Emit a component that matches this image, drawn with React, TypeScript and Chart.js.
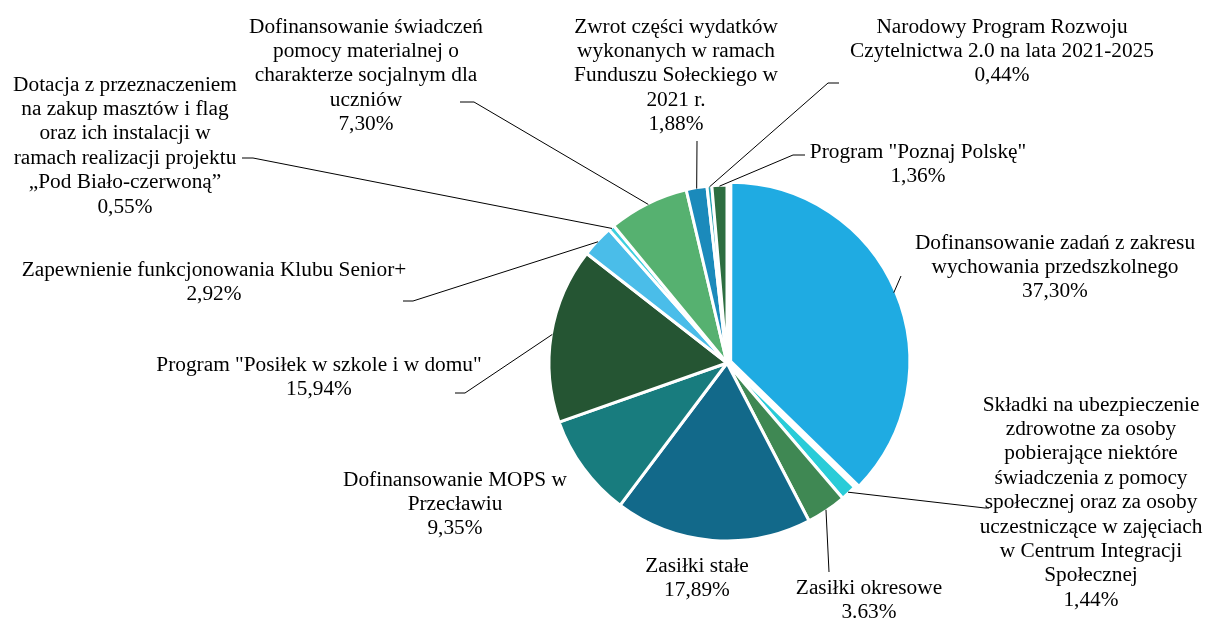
import React, { useEffect, useRef } from "react";
import { Chart, registerables } from "chart.js";

Chart.register(...registerables);

const CATEGORIES: string[] = [
  "Dofinansowanie zadań z zakresu\nwychowania przedszkolnego",
  "Składki na ubezpieczenie\nzdrowotne za osoby\npobierające niektóre\nświadczenia z pomocy\nspołecznej oraz za osoby\nuczestniczące w zajęciach\nw Centrum Integracji\nSpołecznej",
  "Zasiłki okresowe",
  "Zasiłki stałe",
  "Dofinansowanie MOPS w\nPrzecławiu",
  'Program "Posiłek w szkole i w domu"',
  "Zapewnienie funkcjonowania Klubu Senior+",
  "Dotacja z przeznaczeniem\nna zakup masztów i flag\noraz ich instalacji w\nramach realizacji projektu\n„Pod Biało-czerwoną”",
  "Dofinansowanie świadczeń\npomocy materialnej o\ncharakterze socjalnym dla\nuczniów",
  "Zwrot części wydatków\nwykonanych w ramach\nFunduszu Sołeckiego w\n2021 r.",
  "Narodowy Program Rozwoju\nCzytelnictwa 2.0 na lata 2021-2025",
  'Program "Poznaj Polskę"',
];

const VALUES: number[] = [37.3, 1.44, 3.63, 17.89, 9.35, 15.94, 2.92, 0.55, 7.3, 1.88, 0.44, 1.36];

const PERCENT_LABELS: string[] = [
  "37,30%", "1,44%", "3.63%", "17,89%", "9,35%", "15,94%",
  "2,92%", "0,55%", "7,30%", "1,88%", "0,44%", "1,36%",
];

const COLORS: string[] = [
  "#1FABE2", "#29CCD8", "#3F8853", "#12698A", "#187C7E", "#255533",
  "#4ABDE9", "#3FD0DE", "#56B170", "#1B8ABB", "#22A2B2", "#2D6E40",
];

const OFFSETS: number[] = [16, 0, 0, 0, 0, 0, 0, 0, 0, 0, 0, 0];

// label layout: text block centre x, first line centre y, leader elbow points
const LABEL_X: number[] = [1055, 1091, 869, 697, 455, 319, 214, 125, 366, 676, 1002, 918];
const LABEL_Y0: number[] = [243, 405, 588, 566, 480, 365, 270, 85, 27, 27, 27, 152];
const LEADERS: number[][][] = [
  [[901, 276]],
  [[985, 508], [989, 508]],
  [[829, 572]],
  [],
  [],
  [[465, 393], [455, 393]],
  [[413, 301], [403, 301]],
  [[253, 158], [242, 158]],
  [[474, 102], [460, 102]],
  [[697, 141]],
  [[828, 83], [839, 83]],
  [[793, 155], [805, 155]],
];

const FONT = '21.33px "Liberation Serif", "Times New Roman", serif';
const LINE_H = 24.4;

const labelPlugin = {
  id: "pieLabels",
  afterDatasetsDraw(chart: any) {
    const ctx = chart.ctx as CanvasRenderingContext2D;
    const meta = chart.getDatasetMeta(0);
    ctx.save();
    ctx.strokeStyle = "#000";
    ctx.lineWidth = 1;
    ctx.fillStyle = "#000";
    ctx.font = FONT;
    ctx.textAlign = "center";
    ctx.textBaseline = "middle";
    meta.data.forEach((arc: any, i: number) => {
      const mid = (arc.startAngle + arc.endAngle) / 2;
      const off = (arc.options.offset || 0) / 4;
      const r = arc.outerRadius + off - 1;
      const sx = arc.x + Math.cos(mid) * r;
      const sy = arc.y + Math.sin(mid) * r;
      const pts = LEADERS[i];
      if (pts.length) {
        ctx.beginPath();
        ctx.moveTo(sx, sy);
        pts.forEach((p) => ctx.lineTo(p[0], p[1]));
        ctx.stroke();
      }
      const lines = CATEGORIES[i].split("\n").concat([PERCENT_LABELS[i]]);
      lines.forEach((t, k) => {
        ctx.fillText(t, LABEL_X[i], LABEL_Y0[i] + k * LINE_H);
      });
    });
    ctx.restore();
  },
};

export default function App() {
  const ref = useRef<HTMLCanvasElement | null>(null);
  useEffect(() => {
    if (!ref.current) return;
    const chart = new Chart(ref.current, {
      type: "pie",
      data: {
        labels: CATEGORIES,
        datasets: [
          {
            data: VALUES,
            backgroundColor: COLORS,
            borderColor: "#ffffff",
            borderWidth: 3,
            offset: OFFSETS,
            radius: 178,
          } as any,
        ],
      },
      options: {
        responsive: false,
        animation: false,
        layout: { padding: { left: 248, top: 107, right: 0, bottom: 0 } },
        plugins: {
          legend: { display: false },
          tooltip: { enabled: false },
          title: { display: false },
        },
        events: [],
      } as any,
      plugins: [labelPlugin],
    });
    return () => chart.destroy();
  }, []);
  return (
    <div style={{ position: "fixed", left: 0, top: 0, width: 1206, height: 619, background: "#fff" }}>
      <canvas ref={ref} width={1206} height={619} />
    </div>
  );
}
